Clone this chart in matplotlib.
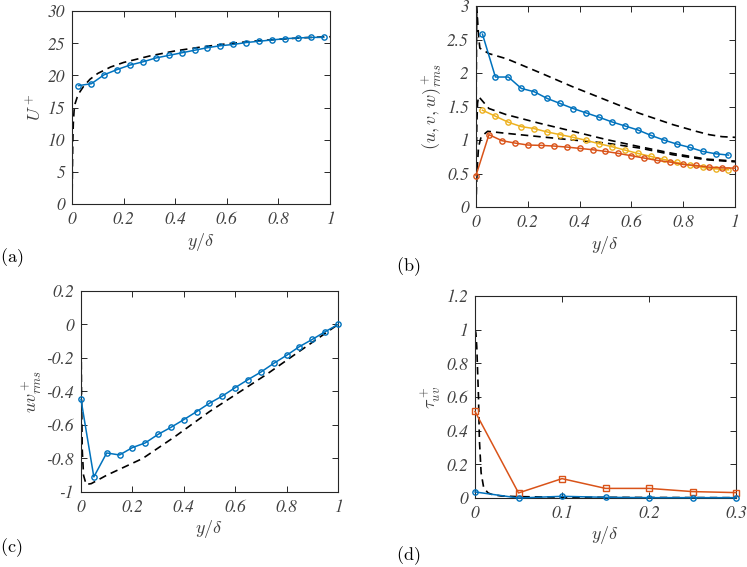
#!/usr/bin/env python3
# -*- coding: utf-8 -*-

import matplotlib
matplotlib.use("Agg")
import matplotlib.pyplot as plt
from matplotlib.ticker import FormatStrFormatter

plt.rcParams['mathtext.fontset'] = 'cm'
plt.rcParams['axes.unicode_minus'] = False

BLUE = '#0072BD'
RED = '#D95319'
YELLOW = '#EDB120'
BOX = '#262626'

# (a) mean velocity
a_y = [0.025, 0.075, 0.125, 0.175, 0.225, 0.275, 0.325, 0.375, 0.425, 0.475,
       0.525, 0.575, 0.625, 0.675, 0.725, 0.775, 0.825, 0.875, 0.925, 0.975]
a_U = [18.4, 18.7, 20.1, 20.9, 21.6, 22.1, 22.7, 23.1, 23.5, 23.9,
       24.3, 24.6, 24.8, 25.1, 25.3, 25.5, 25.7, 25.8, 25.9, 25.9]
a_dns_y = [0, 0.001, 0.002, 0.003, 0.005, 0.008, 0.012, 0.02, 0.03, 0.045, 0.07,
           0.1, 0.15, 0.2, 0.3, 0.4, 0.5, 0.6, 0.7, 0.8, 0.9, 1.0]
a_dns_U = [0, 3.5, 7, 9.5, 12.5, 14.5, 15.6, 16.6, 17.4, 18.3, 19.4,
           20.3, 21.3, 22.0, 23.0, 23.8, 24.4, 24.9, 25.3, 25.6, 25.85, 26.0]

# (b) rms fluctuations
b_y_uw = a_y
b_u = [2.58, 1.94, 1.94, 1.77, 1.72, 1.62, 1.545, 1.47, 1.405, 1.34,
       1.27, 1.21, 1.15, 1.07, 1.00, 0.94, 0.89, 0.83, 0.795, 0.775]
b_w = [1.445, 1.355, 1.265, 1.20, 1.17, 1.12, 1.08, 1.04, 0.995, 0.945,
       0.90, 0.85, 0.80, 0.755, 0.71, 0.665, 0.625, 0.59, 0.57, 0.555]
b_y_v = [0, 0.05, 0.1, 0.15, 0.2, 0.25, 0.3, 0.35, 0.4, 0.45, 0.5,
         0.55, 0.6, 0.65, 0.7, 0.75, 0.8, 0.85, 0.9, 0.95, 1.0]
b_v = [0.47, 1.08, 0.99, 0.955, 0.925, 0.92, 0.91, 0.895, 0.875, 0.855, 0.83,
       0.80, 0.765, 0.73, 0.695, 0.67, 0.635, 0.62, 0.595, 0.585, 0.58]
b_dns_u_y = [0, 0.001, 0.003, 0.006, 0.01, 0.015, 0.05, 0.12, 0.25, 0.37, 0.5,
             0.63, 0.76, 0.85, 0.9, 0.95, 1.0]
b_dns_u = [0, 1.8, 3.0, 2.8, 2.55, 2.37, 2.29, 2.21, 2.0, 1.8, 1.6,
           1.4, 1.23, 1.13, 1.08, 1.05, 1.04]
b_dns_w_y = [0, 0.001, 0.003, 0.006, 0.01, 0.05, 0.116, 0.245, 0.374, 0.5,
             0.632, 0.76, 0.89, 1.0]
b_dns_w = [0, 0.6, 1.2, 1.55, 1.65, 1.47, 1.38, 1.25, 1.13, 1.01,
           0.90, 0.80, 0.715, 0.685]
b_dns_v_y = [0, 0.002, 0.005, 0.01, 0.02, 0.045, 0.116, 0.245, 0.374, 0.5,
             0.632, 0.76, 0.89, 1.0]
b_dns_v = [0, 0.3, 0.6, 0.9, 1.05, 1.13, 1.10, 1.05, 1.0, 0.955,
           0.88, 0.78, 0.705, 0.675]

# (c) Reynolds shear stress
c_y = b_y_v
c_uv = [-0.447, -0.91, -0.767, -0.779, -0.735, -0.707, -0.656, -0.614, -0.568, -0.52, -0.47,
        -0.427, -0.377, -0.329, -0.284, -0.232, -0.184, -0.132, -0.089, -0.043, 0.0]
c_dns_y = [0, 0.002, 0.005, 0.01, 0.02, 0.04, 0.1, 0.24, 0.365, 0.5, 0.72, 0.85, 1.0]
c_dns_uv = [0, -0.4, -0.75, -0.9, -0.955, -0.95, -0.9, -0.8, -0.67, -0.52, -0.3, -0.16, 0]

# (d) tau_uv
d_y = [0, 0.05, 0.1, 0.15, 0.2, 0.25, 0.3]
d_red = [0.514, 0.03, 0.115, 0.057, 0.057, 0.038, 0.032]
d_blue = [0.036, 0.0, 0.01, 0.004, 0.002, 0.002, 0.002]
d_dns_y = [0, 0.001, 0.002, 0.003, 0.004, 0.005, 0.007, 0.01, 0.015, 0.02, 0.03,
           0.05, 0.1, 0.2, 0.3]
d_dns = [1.0, 0.98, 0.9, 0.75, 0.6, 0.35, 0.15, 0.06, 0.03, 0.02, 0.012,
         0.008, 0.005, 0.003, 0.002]

# tick positions
ticks_unit = [0, 0.2, 0.4, 0.6, 0.8, 1]
ticks_a = [0, 5, 10, 15, 20, 25, 30]
ticks_b = [0, 0.5, 1, 1.5, 2, 2.5, 3]
ticks_c = [-1, -0.8, -0.6, -0.4, -0.2, 0, 0.2]
ticks_d_x = [0, 0.1, 0.2, 0.3]
ticks_d_y = [0, 0.2, 0.4, 0.6, 0.8, 1, 1.2]


def style(ax, xticks, yticks, xlim, ylim, ylabel):
    ax.set_xlim(xlim)
    ax.set_ylim(ylim)
    ax.set_xticks(xticks)
    ax.set_yticks(yticks)
    ax.xaxis.set_major_formatter(FormatStrFormatter('%g'))
    ax.yaxis.set_major_formatter(FormatStrFormatter('%g'))
    ax.tick_params(direction='in', top=True, right=True, length=4, width=0.7,
                   colors=BOX, labelsize=12.5, pad=5)
    for label in ax.get_xticklabels() + ax.get_yticklabels():
        label.set_family('STIXGeneral')
        label.set_style('italic')
        label.set_color('#404040')
    for sp in ax.spines.values():
        sp.set_color(BOX)
        sp.set_linewidth(0.8)
    ax.set_xlabel(r'$y/\delta$', fontsize=13, color='#404040', labelpad=2)
    ax.set_ylabel(ylabel, fontsize=13, color='#404040', labelpad=2)


def dashed(ax, x, y):
    ax.plot(x, y, color='black', linestyle=(0, (4.5, 3)), linewidth=1.2)


def series(ax, x, y, color, marker='o'):
    ax.plot(x, y, color=color, linewidth=1.1, marker=marker, markersize=3.8,
            markerfacecolor='none', markeredgewidth=1.0, clip_on=False, zorder=3)


def main():
    fig = plt.figure(figsize=(7.47, 5.67), dpi=100)

    ax_a = fig.add_axes([0.0964, 0.6402, 0.3454, 0.3404])
    dashed(ax_a, a_dns_y, a_dns_U)
    series(ax_a, a_y, a_U, BLUE)
    style(ax_a, ticks_unit, ticks_a, (0, 1), (0, 30), r'$U^+$')

    ax_b = fig.add_axes([0.6372, 0.6349, 0.3467, 0.3545])
    dashed(ax_b, b_dns_u_y, b_dns_u)
    dashed(ax_b, b_dns_w_y, b_dns_w)
    dashed(ax_b, b_dns_v_y, b_dns_v)
    series(ax_b, b_y_uw, b_u, BLUE)
    series(ax_b, b_y_uw, b_w, YELLOW)
    series(ax_b, b_y_v, b_v, RED)
    style(ax_b, ticks_unit, ticks_b, (0, 1), (0, 3), r'$(u,v,w)^+_{rms}$')

    ax_c = fig.add_axes([0.1084, 0.1323, 0.3441, 0.3545])
    dashed(ax_c, c_dns_y, c_dns_uv)
    series(ax_c, c_y, c_uv, BLUE)
    style(ax_c, ticks_unit, ticks_c, (0, 1), (-1, 0.2), r'$uv^+_{rms}$')

    ax_d = fig.add_axes([0.6359, 0.1217, 0.3494, 0.3563])
    dashed(ax_d, d_dns_y, d_dns)
    series(ax_d, d_y, d_red, RED, marker='s')
    series(ax_d, d_y, d_blue, BLUE)
    style(ax_d, ticks_d_x, ticks_d_y, (0, 0.3), (0, 1.2), r'$\tau^+_{uv}$')

    for lab, x, y in [('(a)', 0.0, 0.545), ('(b)', 0.530, 0.529),
                      ('(c)', 0.0, 0.0335), ('(d)', 0.530, 0.0194)]:
        fig.text(x, y, r'$\mathrm{' + lab + '}$', fontsize=13, ha='left', va='center')

    fig.savefig('out.png', dpi=100)


if __name__ == "__main__":
    main()
